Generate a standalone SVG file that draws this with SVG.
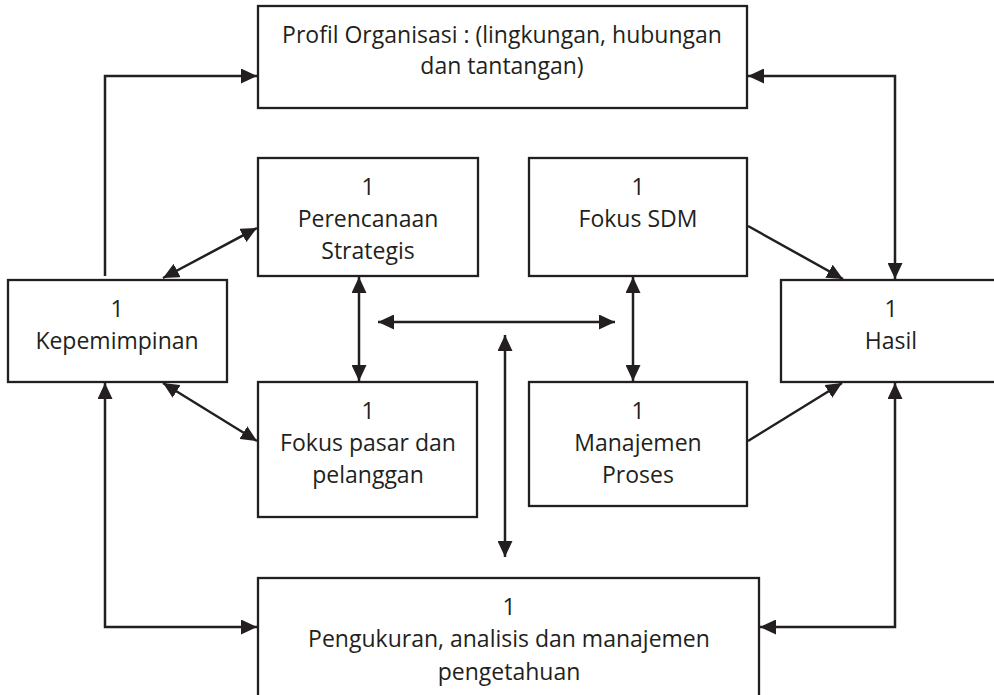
<svg xmlns="http://www.w3.org/2000/svg" width="994" height="695" viewBox="0 0 994 695">
  <style>
    .box { fill: #ffffff; stroke: #231f20; stroke-width: 2.3; }
    .lbl { font-family: "Open Sans", "Noto Sans", "Liberation Sans", sans-serif; font-size: 23px; fill: #231f20; text-anchor: middle; }
    .wire { fill: none; stroke: #231f20; stroke-width: 2.5; }
    .one { marker-end: url(#head); }
    .two { marker-start: url(#head); marker-end: url(#head); }
  </style>
  <defs>
    <marker id="head" markerUnits="userSpaceOnUse" markerWidth="17" markerHeight="15" refX="16" refY="7.5" orient="auto-start-reverse">
      <path d="M0,0 L16,7.5 L0,15 z" fill="#231f20"/>
    </marker>
  </defs>
  <rect width="994" height="695" fill="#ffffff"/>

  <g id="profil">
    <rect class="box" x="258" y="6" width="489" height="102"/>
    <text class="lbl" x="502" y="43">Profil Organisasi : (lingkungan, hubungan</text>
    <text class="lbl" x="502" y="74">dan tantangan)</text>
  </g>

  <g id="kepemimpinan">
    <rect class="box" x="8" y="280" width="219" height="102"/>
    <text class="lbl" x="117" y="317">1</text>
    <text class="lbl" x="117" y="349">Kepemimpinan</text>
  </g>

  <g id="perencanaan">
    <rect class="box" x="258" y="158" width="220" height="118"/>
    <text class="lbl" x="368" y="195">1</text>
    <text class="lbl" x="368" y="227">Perencanaan</text>
    <text class="lbl" x="368" y="259">Strategis</text>
  </g>

  <g id="fokus-sdm">
    <rect class="box" x="529" y="158" width="218" height="118"/>
    <text class="lbl" x="638" y="195">1</text>
    <text class="lbl" x="638" y="227">Fokus SDM</text>
  </g>

  <g id="hasil">
    <rect class="box" x="781" y="280" width="219" height="102"/>
    <text class="lbl" x="891" y="317">1</text>
    <text class="lbl" x="891" y="349">Hasil</text>
  </g>

  <g id="fokus-pasar">
    <rect class="box" x="258" y="382" width="219" height="135"/>
    <text class="lbl" x="368" y="419">1</text>
    <text class="lbl" x="368" y="451">Fokus pasar dan</text>
    <text class="lbl" x="368" y="483">pelanggan</text>
  </g>

  <g id="manajemen-proses">
    <rect class="box" x="529" y="382" width="218" height="124"/>
    <text class="lbl" x="638" y="419">1</text>
    <text class="lbl" x="638" y="451">Manajemen</text>
    <text class="lbl" x="638" y="483">Proses</text>
  </g>

  <g id="pengukuran">
    <rect class="box" x="258" y="578" width="501" height="130"/>
    <text class="lbl" x="509" y="615">1</text>
    <text class="lbl" x="509" y="647">Pengukuran, analisis dan manajemen</text>
    <text class="lbl" x="509" y="680">pengetahuan</text>
  </g>

  <g id="connectors">
    <path class="wire one" d="M105,276 V76 H257"/>
    <path class="wire two" d="M748,76 H895 V279"/>
    <path class="wire two" d="M163,278 L257,228"/>
    <path class="wire two" d="M163,383 L257,441"/>
    <path class="wire two" d="M359,277 V381"/>
    <path class="wire two" d="M378,322 H615"/>
    <path class="wire two" d="M505,335 V557"/>
    <path class="wire two" d="M633,277 V381"/>
    <path class="wire one" d="M748,226 L843,279"/>
    <path class="wire one" d="M748,441 L842,383"/>
    <path class="wire two" d="M105,383 V627 H257"/>
    <path class="wire two" d="M895,383 V627 H760"/>
  </g>
</svg>
